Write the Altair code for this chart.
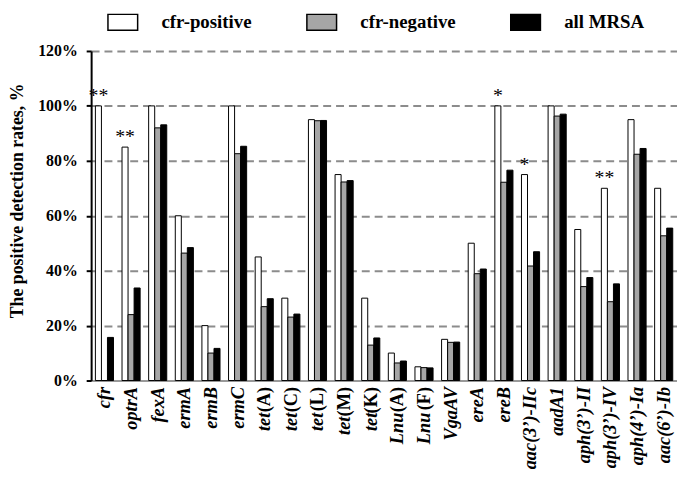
import altair as alt
import pandas as pd

genes = ["cfr", "optrA", "fexA", "ermA", "ermB", "ermC", "tet(A)", "tet(C)", "tet(L)",
         "tet(M)", "tet(K)", "Lnu(A)", "Lnu(F)", "VgaAV", "ereA", "ereB", "aac(3’)-IIc",
         "aadA1", "aph(3’)-II", "aph(3’)-IV", "aph(4’)-Ia", "aac(6’)-Ib"]
cfr_positive = [100, 85, 100, 60, 20, 100, 45, 30, 95, 75, 30, 10, 5, 15, 50, 100, 75, 100, 55, 70, 95, 70]
cfr_negative = [0, 24, 92, 46.4, 10, 82.6, 26.9, 23.1, 94.6, 72.3, 12.9, 6.4, 4.7, 13.9, 38.9, 72.2,
                41.7, 96.3, 34.2, 28.7, 82.4, 52.7]
all_mrsa = [15.7, 33.7, 93.1, 48.4, 11.7, 85.3, 29.8, 24.2, 94.7, 72.8, 15.5, 7.1, 4.6, 14, 40.6, 76.6,
            46.9, 97, 37.5, 35.2, 84.5, 55.5]
significance = ["**", "**", "", "", "", "", "", "", "", "", "", "", "", "", "", "*", "*", "", "", "**", "", ""]
series = ["cfr-positive", "cfr-negative", "all MRSA"]
colors = ["#ffffff", "#a6a6a6", "#000000"]
y_ticks = [0, 20, 40, 60, 80, 100, 120]

rows = []
for i, g in enumerate(genes):
    for s, vals in zip(series, [cfr_positive, cfr_negative, all_mrsa]):
        rows.append({"gene": g, "series": s, "value": vals[i],
                     "sig": significance[i] if s == "cfr-positive" else ""})
df = pd.DataFrame(rows)

FONT = "Liberation Serif"
NB = "\u00a0"
# gene labels: italic names; for tet(..)/Lnu(..) the "(X)" suffix is upright (separate axes)
pref = "slice(datum.label,0,3)"
is_up = f"({pref}=='tet' || {pref}=='Lnu')"
is_m = "(datum.label=='tet(M)')"
plain_expr = f"{is_up} ? '' : datum.label"
prefix_expr = f"({is_up} && !{is_m}) ? {pref} : ''"
prefix_m_expr = f"{is_m} ? {pref} : ''"
suffix_expr = f"{is_up} ? slice(datum.label,3) : ''"

common_lab = dict(orient="bottom", labelAngle=270, labelAlign="right", labelBaseline="middle",
                  ticks=False, labelFont=FONT, labelFontSize=18.5,
                  labelFontWeight="bold", labelColor="black", labelLimit=0, labelOverlap=False,
                  title=None)

x_plain = alt.X("gene:N", sort=genes,
                scale=alt.Scale(paddingInner=0.32, paddingOuter=0.16),
                axis=alt.Axis(domainColor="#999999", domainWidth=2, labelFontStyle="italic",
                              labelPadding=6, labelExpr=plain_expr, **common_lab))
x_prefix = alt.X("gene:N", sort=genes,
                 axis=alt.Axis(domain=False, grid=False, labelFontStyle="italic",
                               labelPadding=32, labelExpr=prefix_expr, **common_lab))
x_prefix_m = alt.X("gene:N", sort=genes,
                   axis=alt.Axis(domain=False, grid=False, labelFontStyle="italic",
                                 labelPadding=36, labelExpr=prefix_m_expr, **common_lab))
x_suffix = alt.X("gene:N", sort=genes,
                 axis=alt.Axis(domain=False, grid=False, labelFontStyle="normal",
                               labelPadding=6, labelExpr=suffix_expr, **common_lab))
xoff_enc = alt.XOffset("series:N", sort=series, scale=alt.Scale(domain=series, paddingInner=0, paddingOuter=0))
y_enc = alt.Y("value:Q", scale=alt.Scale(domain=[0, 120], nice=False),
              axis=alt.Axis(values=y_ticks, labelExpr="datum.value + '%'", grid=True,
                            gridDash=[8, 5], gridColor="#8c8c8c", gridWidth=2,
                            domainColor="black", domainWidth=2, tickColor="black", tickWidth=2,
                            tickSize=5, labelPadding=9, labelFont=FONT, labelFontSize=16,
                            labelFontWeight="bold", labelColor="black",
                            title="The positive detection rates, %", titleFont=FONT,
                            titleFontSize=18, titleFontWeight="bold", titleColor="black",
                            titleAngle=270, titleX=-65, titleY=151, titleAlign="center",
                            titleBaseline="bottom"))

legend_expr = f"datum.label == 'cfr-positive' ? datum.label + '{NB * 3}' : datum.label"

bars = alt.Chart(df).mark_bar(stroke="black", strokeWidth=1).encode(
    x=x_plain, xOffset=xoff_enc, y=y_enc,
    color=alt.Color("series:N", sort=series, scale=alt.Scale(domain=series, range=colors),
                    legend=alt.Legend(title=None, orient="none", legendX=16, legendY=-45,
                                      direction="horizontal",
                                      symbolType="M-1,-0.533H1V0.533H-1Z",
                                      symbolSize=900, symbolStrokeColor="black", symbolStrokeWidth=1.5,
                                      symbolOpacity=1, labelFont=FONT, labelFontSize=19,
                                      labelFontWeight="bold", labelColor="black", labelLimit=0,
                                      labelExpr=legend_expr,
                                      labelOffset=23, columnPadding=52, padding=0))
)

stars = alt.Chart(df).transform_filter("datum.sig != ''").mark_text(
    font=FONT, fontSize=20, baseline="alphabetic", dy=-4, color="black"
).encode(x=x_prefix, xOffset=alt.XOffset("series:N", sort=series),
         y=alt.Y("value:Q"), text="sig:N")

ghost = alt.Chart(df).mark_point(opacity=0).encode(
    x=x_suffix, xOffset=alt.XOffset("series:N", sort=series), y=alt.Y("value:Q"))

ghost_m = alt.Chart(df).mark_point(opacity=0).encode(
    x=x_prefix_m, xOffset=alt.XOffset("series:N", sort=series), y=alt.Y("value:Q"))

chart = alt.layer(bars, stars, ghost, ghost_m).resolve_axis(x="independent").properties(
    width=592, height=333,
    autosize=alt.AutoSizeParams(type="none"),
    padding={"left": 84, "top": 41, "right": 0, "bottom": 90},
).configure_view(stroke=None)

chart.save("out.html", embed_options={"renderer": "svg", "actions": False})
